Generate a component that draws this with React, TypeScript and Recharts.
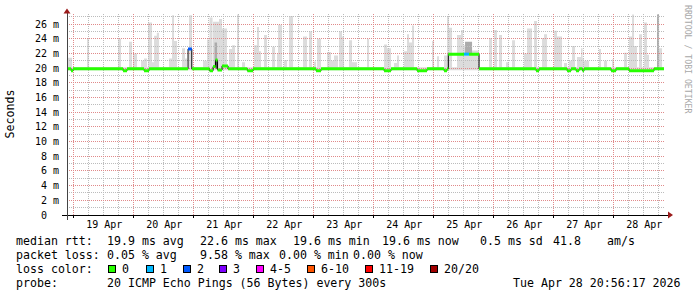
import React from 'react'
import { ComposedChart, Area, Line, XAxis, YAxis, ReferenceLine, ReferenceDot } from 'recharts'

// time is in hours since 19 Apr 00:00
const timeStart = -2.52
const timeEnd = 236.28

const dayTicks = [12, 36, 60, 84, 108, 132, 156, 180, 204, 228]
const dayLabels = ['19 Apr', '20 Apr', '21 Apr', '22 Apr', '23 Apr', '24 Apr', '25 Apr', '26 Apr', '27 Apr', '28 Apr']
const dayBounds = [0, 24, 48, 72, 96, 120, 144, 168, 192, 216]

const yTicks = [0, 2, 4, 6, 8, 10, 12, 14, 16, 18, 20, 22, 24, 26]
const yLabels = ['0\u00a0\u00a0', '2 m', '4 m', '6 m', '8 m', '10 m', '12 m', '14 m', '16 m', '18 m', '20 m', '22 m', '24 m', '26 m']

// smoke (ping spread, ms): bars where the max ping rose above the band
const smokeLow = 19.7
const smokeBase = 20.1
const smokeFrom = [-2.52, 5.5, 17.9, 22.3, 23.9, 27.1, 28.3, 29.9, 31.5, 32.3, 33.4, 38.3, 39.5, 40.3, 43.5, 44.7, 46.3, 51.9, 53.5, 54.5, 55.9, 58.3, 59.5, 62.3, 63.5, 65.5, 67.5, 72.3, 73.5, 74.3, 76.3, 79.5, 81.5, 81.9, 84.3, 86.3, 91.9, 94.3, 96.3, 97.5, 101.5, 103.1, 104.3, 106.3, 107.5, 110.3, 111.5, 117.5, 124.3, 125.5, 128.3, 129.5, 132.3, 133.5, 134.3, 135.5, 143.5, 145.5, 148.3, 149.5, 150.3, 153.5, 155.1, 155.9, 157.5, 159.5, 166.3, 168.3, 170.3, 173.1, 175.5, 180.3, 181.5, 184.3, 187.5, 188.3, 192.3, 193.5, 196.3, 198.3, 199.5, 201.5, 203.1, 203.7, 204.3, 210.3, 212.3, 215.5, 220.3, 222.3, 223.5, 224.3, 226.3, 228.3, 229.5, 233.5, 234.3]
const smokeTo = [-0.5, 6.3, 19.1, 23.5, 25.5, 28.3, 29.5, 31.5, 32.3, 33.4, 34.3, 39.5, 40.3, 41.5, 44.7, 45.5, 47.5, 53.5, 54.5, 55.7, 58.3, 59.5, 61.5, 63.5, 64.7, 66.3, 68.7, 73.5, 74.3, 75.1, 77.5, 80.7, 81.9, 83.5, 85.5, 87.9, 93.5, 95.5, 97.1, 99.1, 103.1, 104.3, 105.9, 107.5, 108.3, 111.5, 113.5, 118.3, 125.5, 127.1, 129.5, 130.3, 133.5, 134.3, 135.5, 136.3, 144.3, 146.3, 149.5, 150.3, 151.5, 155.1, 155.9, 157.5, 159.5, 162.3, 167.5, 169.5, 171.5, 174.3, 176.7, 181.5, 183.5, 185.5, 188.3, 189.5, 193.5, 195.5, 197.5, 199.5, 200.7, 203.1, 203.7, 204.3, 206.3, 211.1, 213.5, 216.3, 221.5, 223.5, 224.3, 225.5, 227.5, 229.5, 230.3, 234.3, 235.5]
const smokeTop = [21.4, 24.0, 24.0, 23.6, 22.0, 21.0, 21.3, 26.2, 20.8, 24.4, 24.8, 21.3, 27.2, 23.7, 22.7, 21.3, 27.2, 21.0, 23.9, 26.9, 26.3, 26.7, 25.4, 22.6, 23.1, 27.3, 20.8, 23.1, 25.6, 22.3, 24.5, 22.9, 22.0, 25.9, 21.1, 27.1, 24.3, 25.0, 20.9, 24.0, 22.2, 21.0, 21.7, 25.0, 24.3, 23.8, 20.8, 24.0, 23.2, 22.7, 20.7, 21.7, 22.3, 24.6, 23.5, 25.8, 23.7, 21.6, 21.7, 27.0, 25.5, 24.5, 25.2, 23.1, 23.5, 22.4, 24.1, 25.2, 24.5, 20.8, 23.8, 22.0, 25.4, 26.4, 24.1, 24.6, 25.1, 24.3, 20.7, 21.0, 23.0, 21.5, 22.7, 21.3, 21.0, 22.6, 21.0, 21.2, 22.1, 24.3, 27.3, 23.0, 24.6, 26.2, 21.8, 27.3, 22.7]

// denser smoke patches
const darkFrom = [56.5, 156.7, 233.5]
const darkTo = [57.5, 159.5, 234.3]
const darkLow = [20.0, 22.0, 19.9]
const darkHigh = [23.5, 23.6, 27.3]
const blackFrom = [56.9]
const blackTo = [57.5]
const blackLow = [19.9]
const blackHigh = [21.1]

// median rtt (ms) with loss class; baseline between the listed steps
const medBase = 19.9
const medFrom = [-0.9, 19.9, 28.3, 45.9, 54.5, 55.9, 56.9, 57.7, 59.5, 69.6, 97.1, 124.3, 137.5, 148.3, 150.0, 156.3, 158.3, 185.1, 197.5, 201.1, 203.7, 215.1, 222.3]
const medTo = [-0.1, 21.5, 30.3, 47.4, 55.9, 56.9, 57.7, 59.5, 61.9, 71.9, 99.1, 127.1, 141.5, 149.5, 156.3, 158.3, 162.3, 186.3, 199.1, 202.3, 204.3, 217.1, 232.3]
const medVal = [19.65, 19.65, 19.65, 22.6, 19.65, 20.2, 21.1, 19.75, 20.3, 19.65, 19.65, 19.65, 19.65, 19.65, 21.9, 21.9, 21.9, 19.65, 19.65, 19.65, 19.65, 19.65, 19.65]
const medLoss = [0, 0, 0, 2, 0, 0, 0, 0, 0, 0, 0, 0, 0, 0, 0, 1, 0, 0, 0, 0, 0, 0, 0]

const lossLabels = ['0', '1', '2', '3', '4-5', '6-10', '11-19', '20/20']
const lossColors = ['#26ff00', '#00b8ff', '#0059ff', '#7e00ff', '#ff00ff', '#ff5500', '#ff0000', '#a10000']

type Row = { t: number; [k: string]: any }

function bandRows(from: number[], to: number[], lo: (i: number) => number, hi: (i: number) => number, fill?: [number, number]): Row[] {
  const rows: Row[] = []
  let cur = timeStart
  from.forEach((f, i) => {
    if (fill && f > cur) rows.push({ t: cur, band: fill }, { t: f, band: fill })
    else if (!fill) rows.push({ t: f })
    rows.push({ t: f, band: [lo(i), hi(i)] }, { t: to[i], band: [lo(i), hi(i)] })
    if (!fill) rows.push({ t: to[i] })
    cur = to[i]
  })
  if (fill && cur < timeEnd) rows.push({ t: cur, band: fill }, { t: timeEnd, band: fill })
  return rows
}

const smokeRows = bandRows(smokeFrom, smokeTo, () => smokeLow, (i) => smokeTop[i], [smokeLow, smokeBase])
const darkRows = bandRows(darkFrom, darkTo, (i) => darkLow[i], (i) => darkHigh[i])
const blackRows = bandRows(blackFrom, blackTo, (i) => blackLow[i], (i) => blackHigh[i])

const segs: { from: number; to: number; val: number; loss: number }[] = []
let segCur = timeStart
medFrom.forEach((f, i) => {
  if (f > segCur) segs.push({ from: segCur, to: f, val: medBase, loss: 0 })
  segs.push({ from: f, to: medTo[i], val: medVal[i], loss: medLoss[i] })
  segCur = medTo[i]
})
if (segCur < timeEnd) segs.push({ from: segCur, to: timeEnd, val: medBase, loss: 0 })

const medianRows: Row[] = segs.flatMap((s) => [{ t: s.from, med: s.val }, { t: s.to, med: s.val }])
const lossRows: Row[] = segs.flatMap((s) => [
  { t: s.from, ['l' + s.loss]: s.val },
  { t: s.to, ['l' + s.loss]: s.val },
  { t: s.to },
])
const usedLoss = Array.from(new Set(medLoss.concat([0])))

const minorH: number[] = []
for (let v = 1; v < 28; v += 2) minorH.push(v)
const majorH = yTicks.filter((v) => v > 0)
const minorV: number[] = []
for (let h = 6; h < timeEnd; h += 6) if (h % 24 !== 0) minorV.push(h)

const mono = 'DejaVu Sans Mono, monospace'
const minorColor = '#bcbcbc'
const majorColor = '#e08a8a'
const arrowColor = '#9b1b1b'

const UpArrow = (p: any) => <polygon points={`${p.cx - 3.5},${p.cy + 0.5} ${p.cx + 3.5},${p.cy + 0.5} ${p.cx},${p.cy - 4.5}`} fill={arrowColor} />
const RightArrow = (p: any) => <polygon points={`${p.cx + 4},${p.cy - 3.5} ${p.cx + 4},${p.cy + 3.5} ${p.cx + 9},${p.cy}`} fill={arrowColor} />

const row1 = [
  { x: 16, s: 'median rtt:' },
  { x: 107, s: '19.9 ms avg' },
  { x: 200, s: '22.6 ms max' },
  { x: 293, s: '19.6 ms min' },
  { x: 382, s: '19.6 ms now' },
  { x: 480, s: '0.5 ms sd' },
  { x: 553, s: '41.8' },
  { x: 607, s: 'am/s' },
]
const row2 = [
  { x: 16, s: 'packet loss:' },
  { x: 107, s: '0.05 % avg' },
  { x: 200, s: '9.58 % max' },
  { x: 279, s: '0.00 % min' },
  { x: 353, s: '0.00 % now' },
]
const lossBoxX = [108, 146, 183, 219, 256, 307, 365, 430]

export default function App() {
  return (
    <div style={{ position: 'absolute', left: 0, top: 0, width: 697, height: 297, background: '#fff', overflow: 'hidden' }}>
      <ComposedChart width={697} height={240} data={smokeRows} margin={{ top: 13, right: 33, left: 17, bottom: 5 }}>
        <XAxis
          dataKey="t"
          type="number"
          domain={[timeStart, timeEnd]}
          allowDataOverflow
          ticks={dayTicks}
          interval={0}
          tickFormatter={(v: number) => dayLabels[dayTicks.indexOf(v)] ?? ''}
          tick={{ fontSize: 10, fontFamily: mono, fill: '#000', dx: 1 }}
          axisLine={false}
          tickLine={false}
          tickSize={0}
          tickMargin={6}
          height={20}
        />
        <YAxis
          type="number"
          domain={[0, 27.5]}
          allowDataOverflow
          ticks={yTicks}
          interval={0}
          tickFormatter={(v: number) => yLabels[yTicks.indexOf(v)] ?? ''}
          tick={{ fontSize: 10, fontFamily: mono, fill: '#000' }}
          axisLine={false}
          tickLine={false}
          tickSize={0}
          tickMargin={8}
          width={50}
        />
        <Area dataKey="band" type="linear" stroke="none" fill="#dcdcdc" fillOpacity={1} isAnimationActive={false} />
        <Area data={darkRows} dataKey="band" type="linear" stroke="none" fill="#ababab" fillOpacity={1} isAnimationActive={false} />
        <Area data={blackRows} dataKey="band" type="linear" stroke="none" fill="#555" fillOpacity={1} isAnimationActive={false} />
        {minorH.map((v) => (
          <ReferenceLine key={'mh' + v} y={v} stroke={minorColor} strokeDasharray="1 1" shapeRendering="crispEdges" />
        ))}
        {minorV.map((v) => (
          <ReferenceLine key={'mv' + v} x={v} stroke={minorColor} strokeDasharray="1 1" shapeRendering="crispEdges" />
        ))}
        {majorH.map((v) => (
          <ReferenceLine key={'Mh' + v} y={v} stroke={majorColor} strokeDasharray="1 1" shapeRendering="crispEdges" />
        ))}
        {dayBounds.map((v) => (
          <ReferenceLine key={'Mv' + v} x={v} stroke={majorColor} strokeDasharray="1 1" shapeRendering="crispEdges" />
        ))}
        <Line data={medianRows} dataKey="med" type="linear" stroke="#000" strokeWidth={1} dot={false} activeDot={false} isAnimationActive={false} />
        {usedLoss.map((k) => (
          <Line
            key={'loss' + k}
            data={lossRows}
            dataKey={'l' + k}
            type="linear"
            stroke={lossColors[k]}
            strokeWidth={3}
            strokeLinecap="butt"
            dot={false}
            activeDot={false}
            isAnimationActive={false}
          />
        ))}
        {dayBounds.map((v) => (
          <ReferenceLine key={'tk' + v} segment={[{ x: v, y: 0 }, { x: v, y: -0.4 }]} stroke="#000" ifOverflow="visible" shapeRendering="crispEdges" />
        ))}
        <ReferenceLine segment={[{ x: -4.5, y: 0 }, { x: 237.9, y: 0 }]} stroke="#000" ifOverflow="visible" shapeRendering="crispEdges" />
        <ReferenceLine segment={[{ x: timeStart, y: -0.68 }, { x: timeStart, y: 27.9 }]} stroke="#444" ifOverflow="visible" shapeRendering="crispEdges" />
        <ReferenceDot x={timeStart} y={27.5} ifOverflow="visible" shape={UpArrow} />
        <ReferenceDot x={timeEnd} y={0} ifOverflow="visible" shape={RightArrow} />
      </ComposedChart>
      <svg width={697} height={297} style={{ position: 'absolute', left: 0, top: 0, pointerEvents: 'none' }} fontFamily={mono}>
        <text x={14} y={114} fontSize={11.6} textAnchor="middle" transform="rotate(-90 14 114)" fill="#000">Seconds</text>
        <text x={685} y={5} fontSize={8.2} fill="#a8a8a8" transform="rotate(90 685 5)">RRDTOOL / TOBI OETIKER</text>
        {row1.map((c) => (
          <text key={'r1' + c.x} x={c.x} y={245} fontSize={11.6} fill="#000">{c.s}</text>
        ))}
        {row2.map((c) => (
          <text key={'r2' + c.x} x={c.x} y={259} fontSize={11.6} fill="#000">{c.s}</text>
        ))}
        <text x={16} y={273} fontSize={11.6} fill="#000">loss color:</text>
        {lossLabels.map((l, i) => (
          <g key={'lg' + l}>
            <rect x={lossBoxX[i] + 0.5} y={265.5} width={7} height={7} fill={lossColors[i]} stroke="#000" strokeWidth={1} />
            <text x={lossBoxX[i] + 14} y={273} fontSize={11.6} fill="#000">{l}</text>
          </g>
        ))}
        <text x={16} y={287} fontSize={11.6} fill="#000">probe:</text>
        <text x={107} y={287} fontSize={11.6} fill="#000">20 ICMP Echo Pings (56 Bytes) every 300s</text>
        <text x={513} y={287} fontSize={11.6} fill="#000">Tue Apr 28 20:56:17 2026</text>
      </svg>
    </div>
  )
}
